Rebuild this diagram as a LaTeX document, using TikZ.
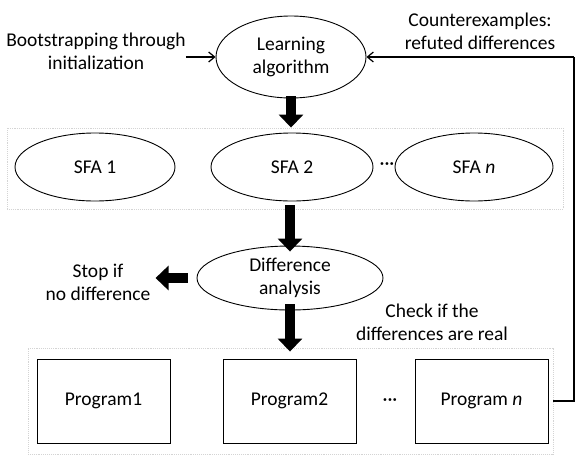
\documentclass[tikz,border=0pt]{standalone}
\usepackage{fontspec}
\setmainfont{Carlito}
\usetikzlibrary{shapes.geometric,arrows.meta}
\begin{document}
\begin{tikzpicture}[x=1pt,y=-1pt,
  every node/.style={font=\fontsize{19.5}{23}\selectfont},
  lbl/.style={align=center,inner sep=0pt},
  oval/.style={ellipse,draw,line width=0.9pt,inner sep=0pt},
  prog/.style={rectangle,draw,line width=0.9pt,minimum width=133pt,minimum height=84pt,inner sep=0pt},
  container/.style={rectangle,draw=black!17,line width=0.9pt,densely dotted,inner sep=0pt},
  fat/.style={line width=10pt,-{Triangle[width=24pt,length=13pt]}},
  thinarr/.style={line width=1.3pt,-{Straight Barb[length=6pt,width=10pt,line width=1.2pt]}},
  fb/.style={line width=1.6pt}]
\useasboundingbox (0,0) rectangle (585,469);
% top
\node[oval,minimum width=150pt,minimum height=82pt,align=center] (learn) at (291,57) {Learning\\algorithm};
\node[lbl] (boot) at (96,51) {Bootstrapping through\\initialization};
\node[lbl] (counter) at (480,31) {Counterexamples:\\refuted differences};
% SFA row
\node[container,minimum width=556pt,minimum height=81pt] (sfabox) at (285,168.5) {};
\node[oval,minimum width=160pt,minimum height=68pt] (sfa1) at (95,167) {SFA 1};
\node[oval,minimum width=162pt,minimum height=68pt] (sfa2) at (292,167) {SFA 2};
\node[oval,minimum width=158pt,minimum height=68pt] (sfan) at (474,167) {SFA \textit{n}};
\node[lbl] (dots1) at (387,166) {···};
% difference analysis
\node[oval,minimum width=186pt,minimum height=64pt,align=center] (diff) at (290,278) {Difference\\analysis};
\node[lbl] (stop) at (98,282) {Stop if\\no difference};
\node[lbl] (check) at (432,322) {Check if the\\differences are real};
% programs row
\node[container,minimum width=525pt,minimum height=106pt] (progbox) at (290.5,401) {};
\node[prog] (prog1) at (103.5,401) {Program1};
\node[prog] (prog2) at (289.5,401) {Program2};
\node[prog] (progn) at (481.5,401) {Program \textit{n}};
\node[lbl] (dots2) at (390,402) {···};
% fat arrows
\draw[fat] ([yshift=2pt]learn.south) -- (learn.south |- sfabox.north);
\draw[fat] ([yshift=4pt]diff.north |- sfabox.south) -- ([yshift=-6pt]diff.north);
\draw[fat] ([yshift=6pt]diff.south) -- ([yshift=-4pt]diff.south |- progbox.north);
\draw[fat] ([xshift=-9pt]diff.west) -- ([xshift=-41pt]diff.west);
% thin arrows
\coordinate (corner) at (574,57);
\draw[thinarr] (boot.east |- learn.west) -- (learn.west);
\draw[fb] (progbox.east) -- (progbox.east -| corner) -- (corner);
\draw[thinarr,line width=1.6pt] (corner) -- (learn.east);
\end{tikzpicture}
\end{document}
